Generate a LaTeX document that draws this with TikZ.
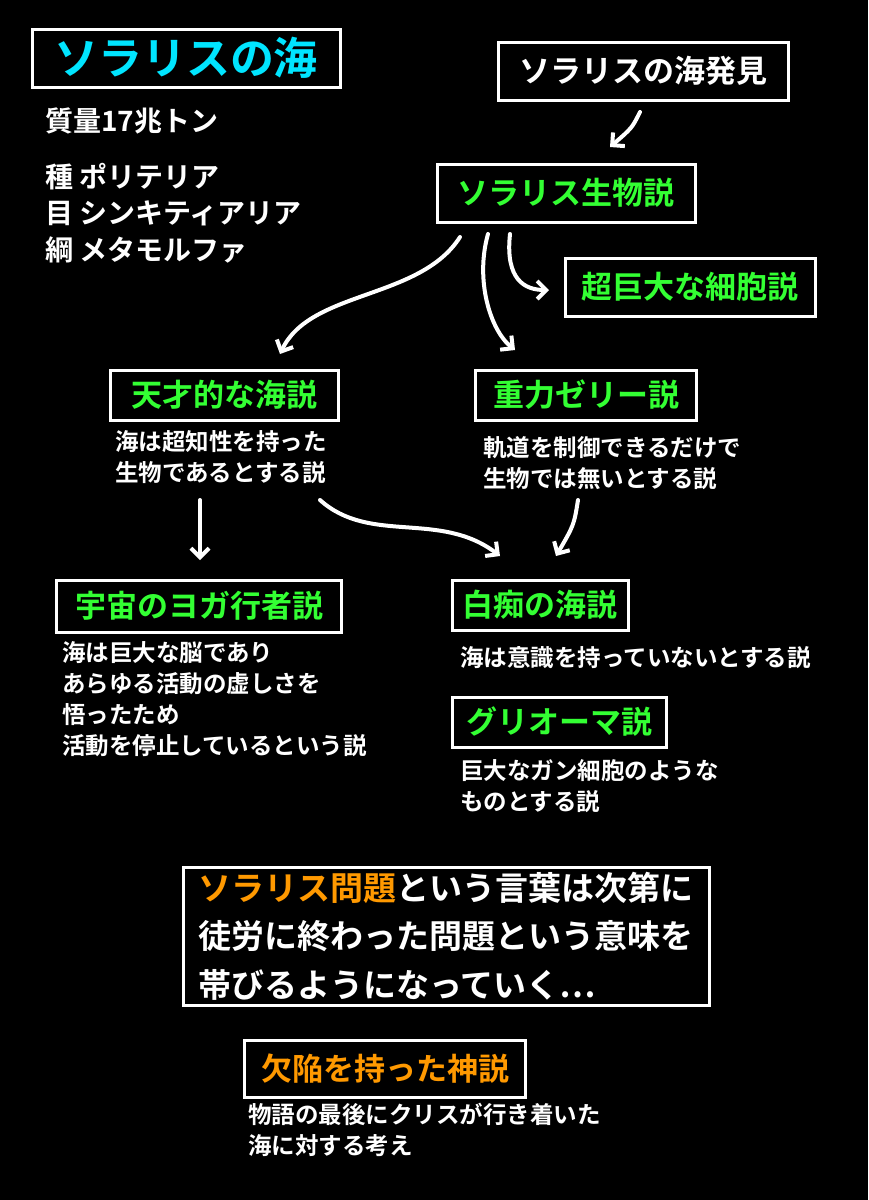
\documentclass[tikz,border=0pt]{standalone}
\usepackage{fontspec}
\setmainfont{Noto Sans CJK JP}[BoldFont={Noto Sans CJK JP Bold}]
\usetikzlibrary{arrows.meta}
\definecolor{cy}{HTML}{00E5FF}
\definecolor{gr}{HTML}{33FF33}
\definecolor{og}{HTML}{FF9900}
\begin{document}
\begin{tikzpicture}[x=1pt,y=-1pt,
 bx/.style={draw=white,line width=3pt,fill=black,inner sep=0pt,align=center,font=\bfseries\fontsize{31}{34}\selectfont},
 tx/.style={text=white,anchor=north west,align=left,inner sep=0pt,font=\bfseries\fontsize{23.5}{31}\selectfont},
 ar/.style={white,line width=4pt,line cap=round,-{Straight Barb[length=9pt,width=18pt,line width=4pt]}}]
\fill[black] (0,0) rectangle (868,1200);
\useasboundingbox (0,0) rectangle (868,1200);
\node[bx,text=cy,minimum width=308,minimum height=58,font=\bfseries\fontsize{44}{46}\selectfont] (title) at (186,58) {ソラリスの海};
\node[tx,font=\bfseries\fontsize{28}{30}\selectfont] (mass) at (45,108) {質量17兆トン};
\node[tx,font=\bfseries\fontsize{28}{36.5}\selectfont] (tax) at (45,163) {種 ポリテリア\\目 シンキティアリア\\綱 メタモルファ};
\node[bx,text=white,minimum width=290,minimum height=58] (find) at (643,71) {ソラリスの海発見};
\node[bx,text=gr,minimum width=258,minimum height=58] (bio) at (566,193) {ソラリス生物説};
\node[bx,text=gr,minimum width=250,minimum height=58] (cell) at (690,287) {超巨大な細胞説};
\node[bx,text=gr,minimum width=228,minimum height=50] (gen) at (224,395) {天才的な海説};
\node[bx,text=gr,minimum width=221,minimum height=50] (grav) at (586,395) {重力ゼリー説};
\node[tx] (gend) at (115,430) {海は超知性を持った\\生物であるとする説};
\node[tx] (gravd) at (483,436) {軌道を制御できるだけで\\生物では無いとする説};
\node[bx,text=gr,minimum width=285,minimum height=52] (yoga) at (199,606) {宇宙のヨガ行者説};
\node[bx,text=gr,minimum width=176,minimum height=50] (idiot) at (540,605) {白痴の海説};
\node[tx] (yogad) at (62,641) {海は巨大な脳であり\\あらゆる活動の虚しさを\\悟ったため\\活動を停止しているという説};
\node[tx] (idiotd) at (460,646) {海は意識を持っていないとする説};
\node[bx,text=gr,minimum width=214,minimum height=50] (gli) at (559,722) {グリオーマ説};
\node[tx] (glid) at (460,759) {巨大なガン細胞のような\\ものとする説};
\node[bx,text=white,minimum width=526,minimum height=138,align=left,font=\bfseries\fontsize{33}{48.5}\selectfont] (big) at (446,936) {\textcolor{og}{ソラリス問題}という言葉は次第に\\徒労に終わった問題という意味を\\帯びるようになっていく⋯};
\node[bx,text=og,minimum width=281,minimum height=57] (god) at (385,1069) {欠陥を持った神説};
\node[tx] (godd) at (248,1103) {物語の最後にクリスが行き着いた\\海に対する考え};
\coordinate (a1) at (640,112); \coordinate (b1) at (610,147);
\coordinate (a2) at (460,237); \coordinate (b2) at (280,354);
\coordinate (a3) at (488,234); \coordinate (b3) at (515,350);
\coordinate (a4) at (510,234); \coordinate (b4) at (549,290);
\coordinate (a5) at (200,500); \coordinate (b5) at (200,560);
\coordinate (a6) at (320,500); \coordinate (b6) at (500,556);
\coordinate (a7) at (578,500); \coordinate (b7) at (556,556);
\draw[ar] (a1) .. controls (632,128) .. (b1);
\draw[ar] (a2) .. controls (420,300) and (310,290) .. (b2);
\draw[ar] (a3) .. controls (475,280) and (490,330) .. (b3);
\draw[ar] (a4) .. controls (505,280) and (525,290) .. (b4);
\draw[ar] (a5) -- (b5);
\draw[ar] (a6) .. controls (370,545) and (440,510) .. (b6);
\draw[ar] (a7) .. controls (574,525) .. (b7);
\end{tikzpicture}
\end{document}
